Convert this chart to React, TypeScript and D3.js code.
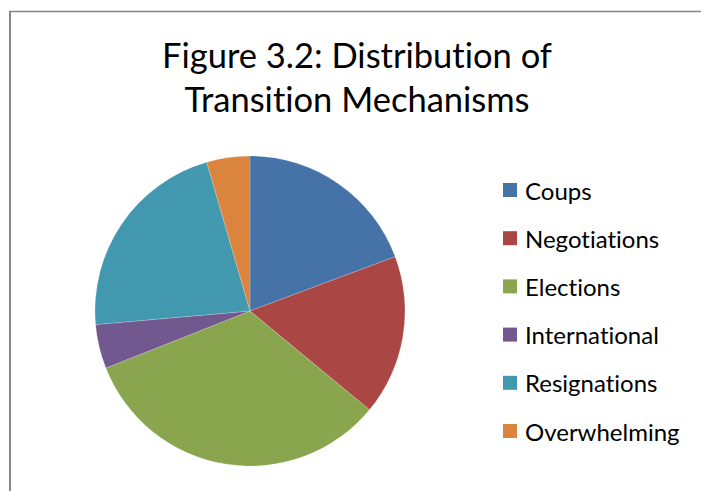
import React from "react";
import * as d3 from "d3";

const categories = ["Coups", "Negotiations", "Elections", "International", "Resignations", "Overwhelming"];
const values = [19.3, 16.7, 33.0, 4.6, 21.9, 4.5];
const colors = ["#4572A7", "#AA4643", "#89A54E", "#71588F", "#4198AF", "#DB843D"];
const titleLines = ["Figure 3.2: Distribution of", "Transition Mechanisms"];

const W = 701;
const H = 491;
const FONT = "Lato, 'Open Sans', sans-serif";

export default function App() {
  const cx = 250;
  const cy = 311;
  const r = 155;
  const pie = d3.pie<number>().sort(null).value((d) => d)(values);
  const arc = d3.arc<d3.PieArcDatum<number>>().innerRadius(0).outerRadius(r);

  const legendY = d3.scalePoint<string>().domain(categories).range([190, 431]);

  return (
    <svg
      width={W}
      height={H}
      style={{
        position: "absolute",
        left: 0,
        top: 0,
        display: "block",
        background: "#fff",
        fontVariantLigatures: "none",
        fontFeatureSettings: "'liga' 0, 'clig' 0",
      }}
    >
      <line x1={10} y1={11} x2={10} y2={H} stroke="#868686" strokeWidth={2} />
      <line x1={9} y1={11.5} x2={W} y2={11.5} stroke="#868686" strokeWidth={1.5} />
      <g fontFamily={FONT} fill="#000">
        {titleLines.map((t, i) => (
          <text key={t} x={357} y={68 + i * 44} textAnchor="middle" fontSize={34.5}>
            {t}
          </text>
        ))}
      </g>
      <g transform={`translate(${cx},${cy})`}>
        {pie.map((p, i) => (
          <path key={categories[i]} d={arc(p) || ""} fill={colors[i]} stroke="#fff" strokeWidth={0.3} strokeOpacity={0.6} />
        ))}
      </g>
      <g fontFamily={FONT}>
        {categories.map((c, i) => {
          const y = legendY(c) as number;
          return (
            <g key={c}>
              <rect x={503} y={y - 7} width={14} height={14} fill={colors[i]} />
              <text x={525} y={y} dominantBaseline="central" fontSize={24} fill="#000">
                {c}
              </text>
            </g>
          );
        })}
      </g>
    </svg>
  );
}
